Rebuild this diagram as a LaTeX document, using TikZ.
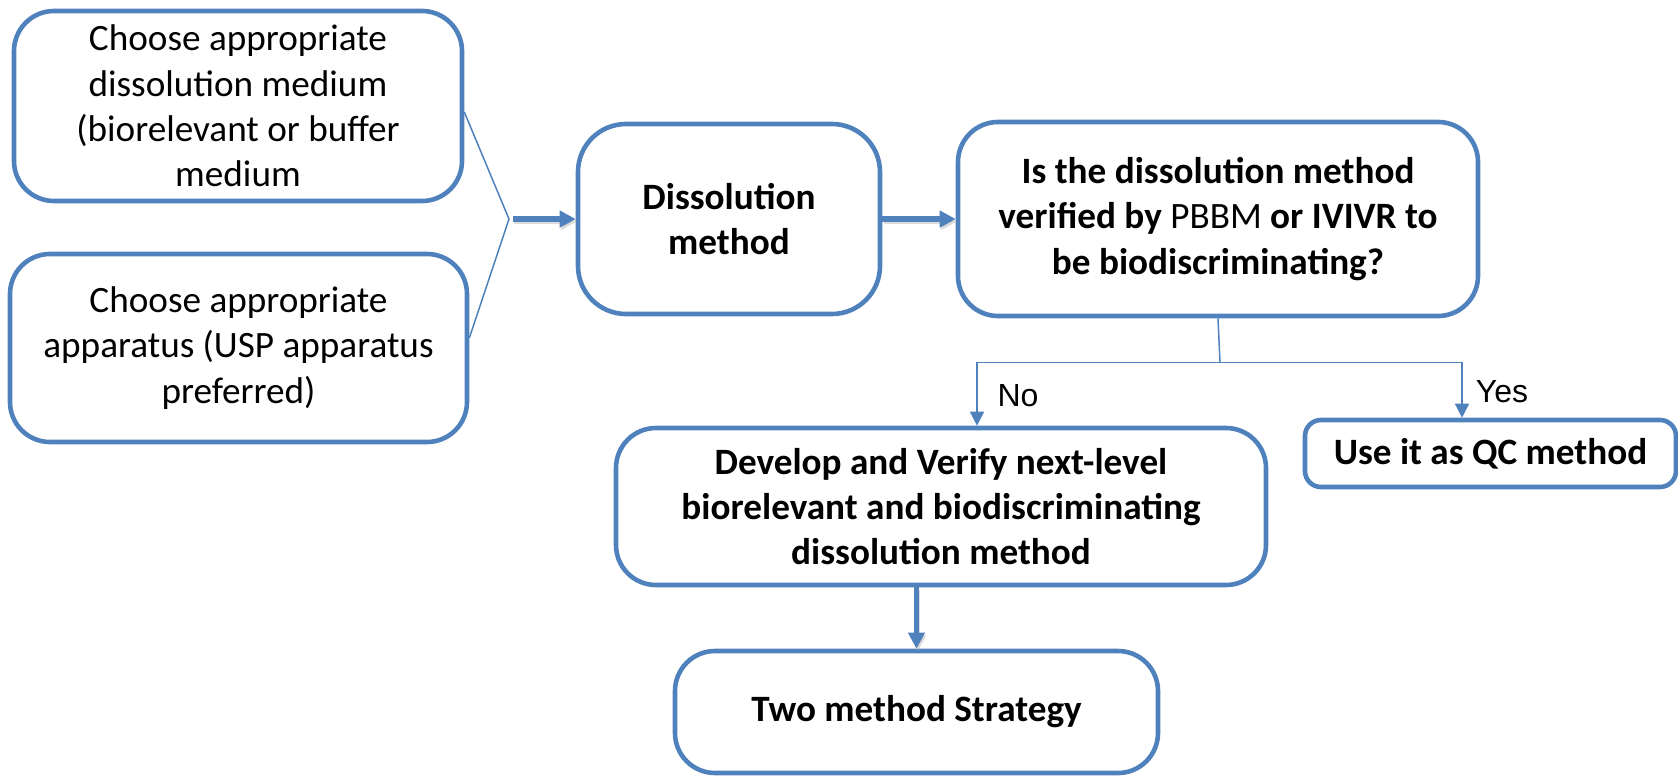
\documentclass[tikz,border=0pt]{standalone}
\usepackage{fontspec}
\setmainfont{Carlito}
\newfontfamily\labelfont{Liberation Sans}
\usetikzlibrary{arrows.meta}
\definecolor{boxblue}{HTML}{4F81BD}

\begin{document}
\begin{tikzpicture}[x=0.5pt,y=-0.5pt,
  box/.style={draw=boxblue, line width=2.3pt, rounded corners=20pt, align=center,
    inner sep=0pt, font=\fontsize{18.6}{22.6}\selectfont},
  boldbox/.style={box, font=\fontsize{18.6}{22.6}\selectfont\bfseries},
  thinline/.style={draw=boxblue, line width=0.75pt},
  thinarrow/.style={thinline, -{Triangle[length=7pt,width=7pt]}},
  thickarrow/.style={draw=boxblue, line width=2.7pt, -{Triangle[length=8pt,width=8pt]},
    preaction={draw=black!30, opacity=0.45, line width=2.7pt,
      transform canvas={xshift=0.6pt,yshift=-1.3pt}}},
  branchlabel/.style={font=\labelfont\fontsize{16}{19}\selectfont, inner sep=0pt}
]
\useasboundingbox (0,0) rectangle (1678,776);

% input choices
\node[box, minimum width=224pt, minimum height=95pt] (medium) at (238,106)
  {Choose appropriate\\dissolution medium\\(biorelevant or buffer\\medium};
\node[box, minimum width=228.5pt, minimum height=94pt] (apparatus) at (238.5,348)
  {Choose appropriate\\apparatus (USP apparatus\\preferred)};

% main flow
\node[boldbox, rounded corners=24pt, minimum width=151pt, minimum height=95pt] (method) at (729,219)
  {Dissolution\\method};
\node[boldbox, minimum width=260pt, minimum height=97pt] (verify) at (1218,219)
  {Is the dissolution method\\verified by {\normalfont PBBM} or IVIVR to\\be biodiscriminating?};
\node[boldbox, minimum width=325pt, minimum height=78.5pt] (develop) at (941,506.5)
  {Develop and Verify next-level\\biorelevant and biodiscriminating\\dissolution method};
\node[boldbox, rounded corners=8pt, minimum width=185.5pt, minimum height=33.5pt] (qc) at (1490.5,453.5)
  {Use it as QC method};
\node[boldbox, minimum width=241.5pt, minimum height=61pt] (twomethod) at (916.5,712)
  {Two method Strategy};

% merge of the two choices
\coordinate (join) at (509,219);
\draw[thinline] ([yshift=-3pt]medium.east) -- (join);
\draw[thinline] ([yshift=5pt]apparatus.east) -- (join);
\draw[thickarrow] ([xshift=2pt]join) -- (method.west);
\draw[thickarrow] (method.east) -- (verify.west);

% decision branches
\coordinate (nox) at (977,0);
\coordinate (yesx) at (1462,0);
\draw[thinline] (verify.south) -- ++(2,44) coordinate (split);
\draw[thinarrow] (split) -| (develop.north -| nox);
\draw[thinarrow] (split) -| (qc.north -| yesx);
\node[branchlabel] (no) at (1018,396) {No};
\node[branchlabel] (yes) at (1502,392) {Yes};

\draw[thickarrow] (develop.south -| twomethod.north) -- (twomethod.north);
\end{tikzpicture}
\end{document}
